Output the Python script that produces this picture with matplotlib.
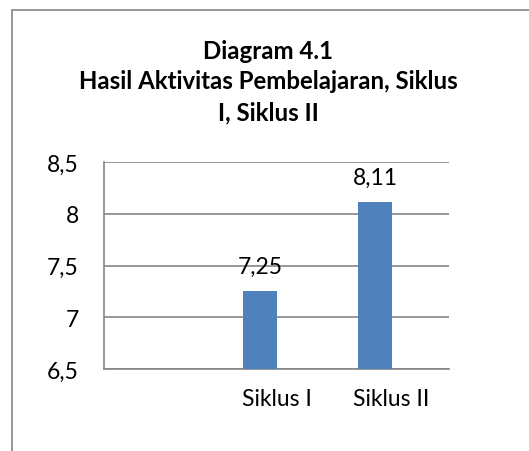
import matplotlib.pyplot as plt
import numpy as np
from matplotlib.patches import Rectangle

plt.rcParams['font.family'] = ['Lato', 'DejaVu Sans']

categories = ['', 'Siklus I', 'Siklus II']
values = [np.nan, 7.25, 8.11]
value_labels = ['', '7,25', '8,11']
yticks = [6.5, 7, 7.5, 8, 8.5]
ytick_labels = ['6,5', '7', '7,5', '8', '8,5']

fig = plt.figure(figsize=(5.29, 4.52), dpi=100)
fig.patches.append(Rectangle((12 / 529, -0.1), 1.2, 1 - 11 / 452 + 0.1,
                             transform=fig.transFigure, fill=False,
                             edgecolor='#868686', linewidth=1.2))
ax = fig.add_axes([104 / 529, 1 - 370 / 452, 345 / 529, 207 / 452])

x = np.arange(len(categories))
w = 0.287
bars = ax.bar(x - w / 2, values, w, color='#4F81BD', zorder=3)
for xi, v, lab in zip(x, values, value_labels):
    if lab:
        ax.annotate(lab, (xi - w / 2, v), xytext=(0, 18), textcoords='offset points',
                    ha='center', va='center', fontsize=16.5)

ax.set_xlim(-0.5, 2.5)
ax.set_ylim(6.5, 8.5)
ax.set_yticks(yticks)
ax.set_yticklabels(ytick_labels, fontsize=16.5)
ax.set_xticks(x)
ax.set_xticklabels(categories, fontsize=16.5)
ax.tick_params(axis='x', length=0, pad=14)
ax.tick_params(axis='y', length=0, pad=18)
ax.grid(axis='y', color='#868686', linewidth=1.2, zorder=0)
for s in ['top', 'right']:
    ax.spines[s].set_visible(False)
for s in ['left', 'bottom']:
    ax.spines[s].set_color('#868686')
    ax.spines[s].set_linewidth(1.2)

fig.text(268 / 529, 1 - 82 / 452, 'Diagram 4.1\nHasil Aktivitas Pembelajaran, Siklus\nI, Siklus II',
         ha='center', va='center', fontsize=17.3, fontweight='bold', linespacing=1.4)

fig.savefig('out.png', dpi=100)
